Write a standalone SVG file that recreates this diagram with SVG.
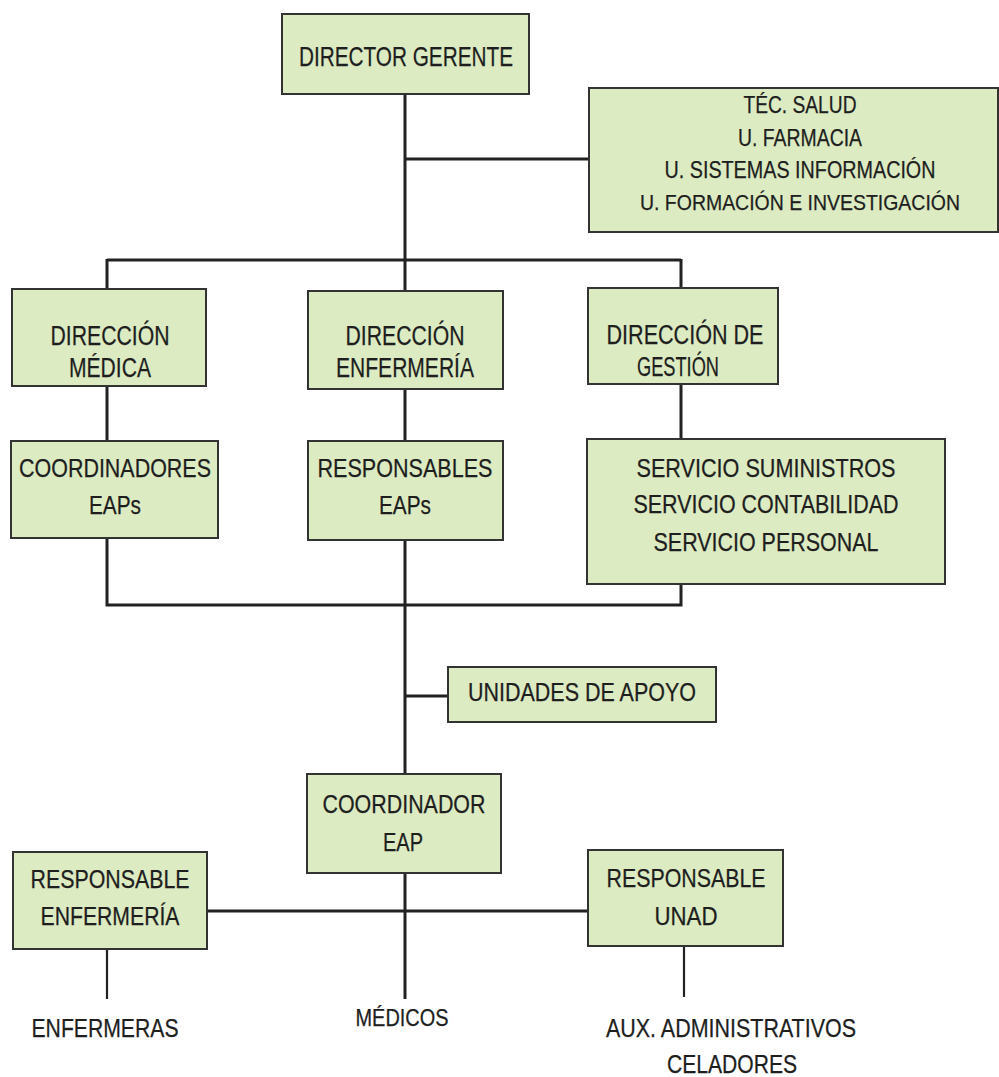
<svg xmlns="http://www.w3.org/2000/svg" width="999" height="1077" viewBox="0 0 999 1077">
<style>
.box{fill:#dcebc2;stroke:#333;stroke-width:2}
.t{font-family:"Liberation Sans",Arial,sans-serif;fill:#1e1e1e;text-anchor:middle;stroke:#1e1e1e;stroke-width:0.25}
.ln{stroke:#222;stroke-width:3;fill:none}
.thin{stroke:#222;stroke-width:2.2;fill:none}
</style>
<rect width="999" height="1077" fill="#fff"/>
<g id="connectors">
<path class="ln" d="M405 94V290M405 159H589M107 260H681M107 259V289M681 259V288"/>
<path class="ln" d="M107 386V441M405 389V441M681 384V439"/>
<path class="ln" d="M107 538V605M681 584V605M105.5 605H682.5M405 540V774M405 696H448"/>
<path class="ln" d="M405 873V999M207 911H588"/>
<path class="thin" d="M107 949V999M684 946V997"/>
</g>
<g id="director-gerente">
<rect class="box" x="282" y="14" width="247" height="80"/>
<text class="t" x="406" y="66" font-size="28" textLength="214" lengthAdjust="spacingAndGlyphs">DIRECTOR GERENTE</text>
</g>
<g id="tec-salud">
<rect class="box" x="589" y="88" width="409" height="144"/>
<text class="t" x="800" y="113" font-size="23" textLength="113" lengthAdjust="spacingAndGlyphs">TÉC. SALUD</text>
<text class="t" x="800" y="146" font-size="23" textLength="124" lengthAdjust="spacingAndGlyphs">U. FARMACIA</text>
<text class="t" x="800" y="178" font-size="23" textLength="271" lengthAdjust="spacingAndGlyphs">U. SISTEMAS INFORMACIÓN</text>
<text class="t" x="800" y="210" font-size="22" textLength="320" lengthAdjust="spacingAndGlyphs">U. FORMACIÓN E INVESTIGACIÓN</text>
</g>
<g id="direccion-medica">
<rect class="box" x="12" y="289" width="194" height="97"/>
<text class="t" x="110" y="345" font-size="27" textLength="119" lengthAdjust="spacingAndGlyphs">DIRECCIÓN</text>
<text class="t" x="110" y="377" font-size="27" textLength="82" lengthAdjust="spacingAndGlyphs">MÉDICA</text>
</g>
<g id="direccion-enfermeria">
<rect class="box" x="308" y="291" width="195" height="98"/>
<text class="t" x="405" y="345" font-size="27" textLength="119" lengthAdjust="spacingAndGlyphs">DIRECCIÓN</text>
<text class="t" x="405" y="377" font-size="27" textLength="138" lengthAdjust="spacingAndGlyphs">ENFERMERÍA</text>
</g>
<g id="direccion-gestion">
<rect class="box" x="588" y="288" width="190" height="96"/>
<text class="t" x="685" y="344" font-size="27" textLength="157" lengthAdjust="spacingAndGlyphs">DIRECCIÓN DE</text>
<text class="t" x="678" y="376" font-size="27" textLength="82" lengthAdjust="spacingAndGlyphs">GESTIÓN</text>
</g>
<g id="coordinadores-eaps">
<rect class="box" x="11" y="441" width="207" height="97"/>
<text class="t" x="115" y="477" font-size="26" textLength="192" lengthAdjust="spacingAndGlyphs">COORDINADORES</text>
<text class="t" x="115" y="514" font-size="26" textLength="52" lengthAdjust="spacingAndGlyphs">EAPs</text>
</g>
<g id="responsables-eaps">
<rect class="box" x="308" y="441" width="195" height="99"/>
<text class="t" x="405" y="477" font-size="26" textLength="175" lengthAdjust="spacingAndGlyphs">RESPONSABLES</text>
<text class="t" x="405" y="514" font-size="26" textLength="52" lengthAdjust="spacingAndGlyphs">EAPs</text>
</g>
<g id="servicios">
<rect class="box" x="587" y="439" width="358" height="145"/>
<text class="t" x="766" y="477" font-size="26" textLength="259" lengthAdjust="spacingAndGlyphs">SERVICIO SUMINISTROS</text>
<text class="t" x="766" y="513" font-size="26" textLength="265" lengthAdjust="spacingAndGlyphs">SERVICIO CONTABILIDAD</text>
<text class="t" x="766" y="551" font-size="26" textLength="225" lengthAdjust="spacingAndGlyphs">SERVICIO PERSONAL</text>
</g>
<g id="unidades-apoyo">
<rect class="box" x="448" y="667" width="268" height="55"/>
<text class="t" x="582" y="701" font-size="26" textLength="228" lengthAdjust="spacingAndGlyphs">UNIDADES DE APOYO</text>
</g>
<g id="coordinador-eap">
<rect class="box" x="307" y="774" width="194" height="99"/>
<text class="t" x="404" y="813" font-size="26" textLength="163" lengthAdjust="spacingAndGlyphs">COORDINADOR</text>
<text class="t" x="403" y="851" font-size="26" textLength="40" lengthAdjust="spacingAndGlyphs">EAP</text>
</g>
<g id="responsable-enfermeria">
<rect class="box" x="13" y="852" width="194" height="97"/>
<text class="t" x="110" y="888" font-size="26" textLength="159" lengthAdjust="spacingAndGlyphs">RESPONSABLE</text>
<text class="t" x="110" y="925" font-size="26" textLength="139" lengthAdjust="spacingAndGlyphs">ENFERMERÍA</text>
</g>
<g id="responsable-unad">
<rect class="box" x="588" y="850" width="195" height="96"/>
<text class="t" x="686" y="887" font-size="26" textLength="159" lengthAdjust="spacingAndGlyphs">RESPONSABLE</text>
<text class="t" x="686" y="925" font-size="26" textLength="63" lengthAdjust="spacingAndGlyphs">UNAD</text>
</g>
<g id="enfermeras">
<text class="t" x="105" y="1037" font-size="26" textLength="147" lengthAdjust="spacingAndGlyphs">ENFERMERAS</text>
</g>
<g id="medicos">
<text class="t" x="402" y="1026" font-size="23" textLength="93" lengthAdjust="spacingAndGlyphs">MÉDICOS</text>
</g>
<g id="aux-celadores">
<text class="t" x="731" y="1037" font-size="26" textLength="250" lengthAdjust="spacingAndGlyphs">AUX. ADMINISTRATIVOS</text>
<text class="t" x="732" y="1073" font-size="26" textLength="130" lengthAdjust="spacingAndGlyphs">CELADORES</text>
</g>
</svg>
